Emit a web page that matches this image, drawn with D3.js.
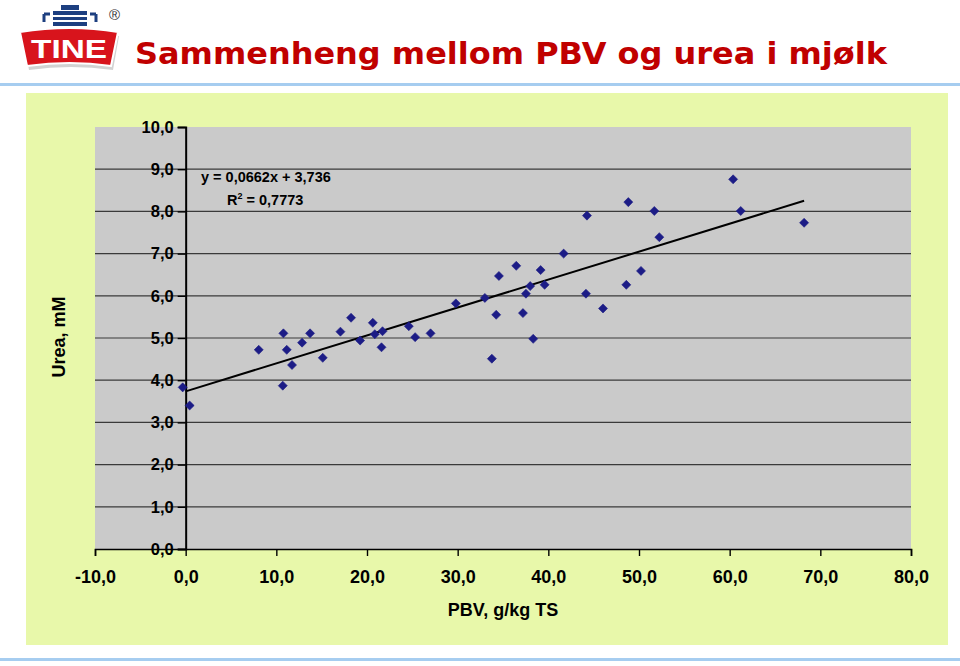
<!DOCTYPE html>
<html><head><meta charset="utf-8">
<script src="https://cdn.jsdelivr.net/npm/d3@7"></script>
<style>
html,body{margin:0;padding:0;background:#fff;}
svg{display:block;}
</style></head>
<body>
<script>
// ---- data ----
const titleText = "Sammenheng mellom PBV og urea i mjølk";
const xLabel = "PBV, g/kg TS";
const yLabel = "Urea, mM";
const xTicks = [-10, 0, 10, 20, 30, 40, 50, 60, 70, 80];
const yTicks = [0, 1, 2, 3, 4, 5, 6, 7, 8, 9, 10];
const pbv = [-0.33, 0.44, 8.06, 10.78, 10.71, 11.15, 11.73, 12.84, 13.72, 15.12,
  17.07, 18.24, 19.24, 20.64, 20.86, 21.6, 21.71, 24.61, 25.31, 27.01,
  29.8, 33.0, 33.77, 34.25, 34.55, 36.46, 37.2, 37.53, 38.0, 38.33,
  39.15, 39.59, 41.69, 44.15, 44.26, 46.03, 48.6, 48.82, 50.22, 51.69,
  52.24, 60.38, 61.22, 68.21];
const urea = [3.83, 3.40, 4.72, 5.11, 3.87, 4.72, 4.36, 4.89, 5.11, 4.53,
  5.15, 5.48, 4.94, 5.36, 5.09, 4.78, 5.16, 5.28, 5.02, 5.11,
  5.82, 5.95, 4.51, 5.55, 6.47, 6.71, 5.59, 6.05, 6.23, 4.98,
  6.61, 6.26, 7.00, 6.05, 7.90, 5.70, 6.26, 8.22, 6.59, 8.01,
  7.39, 8.76, 8.01, 7.73];
const trendSlope = 0.0662;
const trendIntercept = 3.736;
const trendRange = [0, 68.21];
const eqLine1 = "y = 0,0662x + 3,736";
const r2Value = "0,7773";

// ---- chart ----
const W = 960, H = 666;
const svg = d3.select("body").append("svg").attr("width", W).attr("height", H);
const fmt = v => d3.format(".1f")(v).replace(".", ",").replace("\u2212", "-");
const sans = "'Liberation Sans', Arial, sans-serif";

// blue rules
svg.append("rect").attr("x", 0).attr("y", 83).attr("width", W).attr("height", 3).attr("fill", "#a6cdf0");
svg.append("rect").attr("x", 0).attr("y", 658).attr("width", W).attr("height", 3).attr("fill", "#a6cdf0");

// green panel
svg.append("rect").attr("x", 26).attr("y", 93).attr("width", 922).attr("height", 552).attr("fill", "#e8f8aa");

const x = d3.scaleLinear().domain([-10, 80]).range([95, 911]);
const y = d3.scaleLinear().domain([0, 10]).range([549, 127]);

// plot area
svg.append("rect").attr("x", x(-10)).attr("y", y(10))
  .attr("width", x(80) - x(-10)).attr("height", y(0) - y(10)).attr("fill", "#cacaca");

// gridlines
svg.append("g").selectAll("line").data(yTicks.filter(d => d > 0 && d < 10)).join("line")
  .attr("x1", x(-10)).attr("x2", x(80)).attr("y1", d => y(d)).attr("y2", d => y(d))
  .attr("stroke", "#3a3a3a").attr("stroke-width", 1.2);

// x axis
const xAxis = d3.axisBottom(x).tickValues(xTicks).tickFormat(fmt).tickSize(7).tickPadding(14);
const gx = svg.append("g").attr("transform", `translate(0,${y(0)})`).call(xAxis);
gx.select(".domain").attr("stroke", "#000").attr("stroke-width", 1.6);
gx.selectAll(".tick line").attr("stroke", "#000").attr("stroke-width", 1.4);
gx.selectAll("text").attr("font-family", sans)
  .attr("font-weight", "bold").attr("font-size", 18).attr("fill", "#000");

// y axis at x=0
const yAxis = d3.axisLeft(y).tickValues(yTicks).tickFormat(fmt).tickSize(8).tickPadding(4);
const gy = svg.append("g").attr("transform", `translate(${x(0)},0)`).call(yAxis);
gy.select(".domain").attr("stroke", "#000").attr("stroke-width", 2);
gy.selectAll(".tick line").attr("stroke", "#000").attr("stroke-width", 1.4);
gy.selectAll("text").attr("font-family", sans)
  .attr("font-weight", "bold").attr("font-size", 16.5).attr("fill", "#000");

// trendline
svg.append("line")
  .attr("x1", x(trendRange[0])).attr("y1", y(trendIntercept + trendSlope * trendRange[0]))
  .attr("x2", x(trendRange[1])).attr("y2", y(trendIntercept + trendSlope * trendRange[1]))
  .attr("stroke", "#000").attr("stroke-width", 2);

// points
const pts = pbv.map((v, i) => ({ x: v, y: urea[i] }));
svg.append("g").selectAll("path").data(pts).join("path")
  .attr("d", d3.symbol().type(d3.symbolDiamond2).size(52))
  .attr("transform", d => `translate(${x(d.x)},${y(d.y)})`)
  .attr("fill", "#1c1c86").attr("stroke", "#1c1c86").attr("stroke-width", 0.6);

// equation
svg.append("text").attr("x", 201).attr("y", 182).attr("font-family", sans)
  .attr("font-weight", "bold").attr("font-size", 14.5).text(eqLine1);
const r2 = svg.append("text").attr("x", 227).attr("y", 205).attr("font-family", sans)
  .attr("font-weight", "bold").attr("font-size", 14.5);
r2.append("tspan").text("R");
r2.append("tspan").attr("font-size", 9).attr("dy", -6).text("2");
r2.append("tspan").attr("dy", 6).text(" = " + r2Value);

// axis titles
svg.append("text").attr("x", 503).attr("y", 616).attr("text-anchor", "middle")
  .attr("font-family", sans).attr("font-weight", "bold").attr("font-size", 18).text(xLabel);
svg.append("text").attr("transform", "translate(65,337) rotate(-90)").attr("text-anchor", "middle")
  .attr("font-family", sans).attr("font-weight", "bold").attr("font-size", 18).text(yLabel);

// title
svg.append("text").attr("x", 135).attr("y", 64)
  .attr("font-family", "'DejaVu Sans', Verdana, sans-serif").attr("font-weight", "bold")
  .attr("font-size", 30).attr("fill", "#c00000")
  .attr("textLength", 752).attr("lengthAdjust", "spacingAndGlyphs").text(titleText);

// logo
const logo = svg.append("g");
logo.append("path").attr("d", "M22,34 Q70,26 118,34 L112,68 Q70,62 28,68 Z")
  .attr("fill", "#d2d2d2").attr("transform", "translate(1,2)");
logo.append("path").attr("d", "M20,32 Q70,24 118,32 L111,66 Q70,60 27,66 Z")
  .attr("fill", "#d8141c").attr("stroke", "#fff").attr("stroke-width", 2);
logo.append("text").attr("x", 69).attr("y", 58).attr("text-anchor", "middle")
  .attr("font-family", sans).attr("font-weight", "bold")
  .attr("font-size", 26).attr("fill", "#fff").attr("textLength", 76)
  .attr("lengthAdjust", "spacingAndGlyphs").text("TINE");
const navy = "#1d3f80";
logo.append("rect").attr("x", 61).attr("y", 5).attr("width", 18).attr("height", 5).attr("fill", navy);
logo.append("rect").attr("x", 53).attr("y", 11).attr("width", 34).attr("height", 4).attr("fill", navy);
logo.append("rect").attr("x", 53).attr("y", 17).attr("width", 34).attr("height", 3).attr("fill", navy);
logo.append("rect").attr("x", 53).attr("y", 22).attr("width", 34).attr("height", 4).attr("fill", navy);
logo.append("path").attr("d", "M44,14 L44,22 M44,14 L50,14 M96,14 L96,22 M96,14 L90,14")
  .attr("stroke", navy).attr("stroke-width", 3).attr("fill", "none");
logo.append("text").attr("x", 109).attr("y", 20).attr("font-family", sans)
  .attr("font-size", 15).attr("fill", "#333").text("®");
</script>
</body></html>
